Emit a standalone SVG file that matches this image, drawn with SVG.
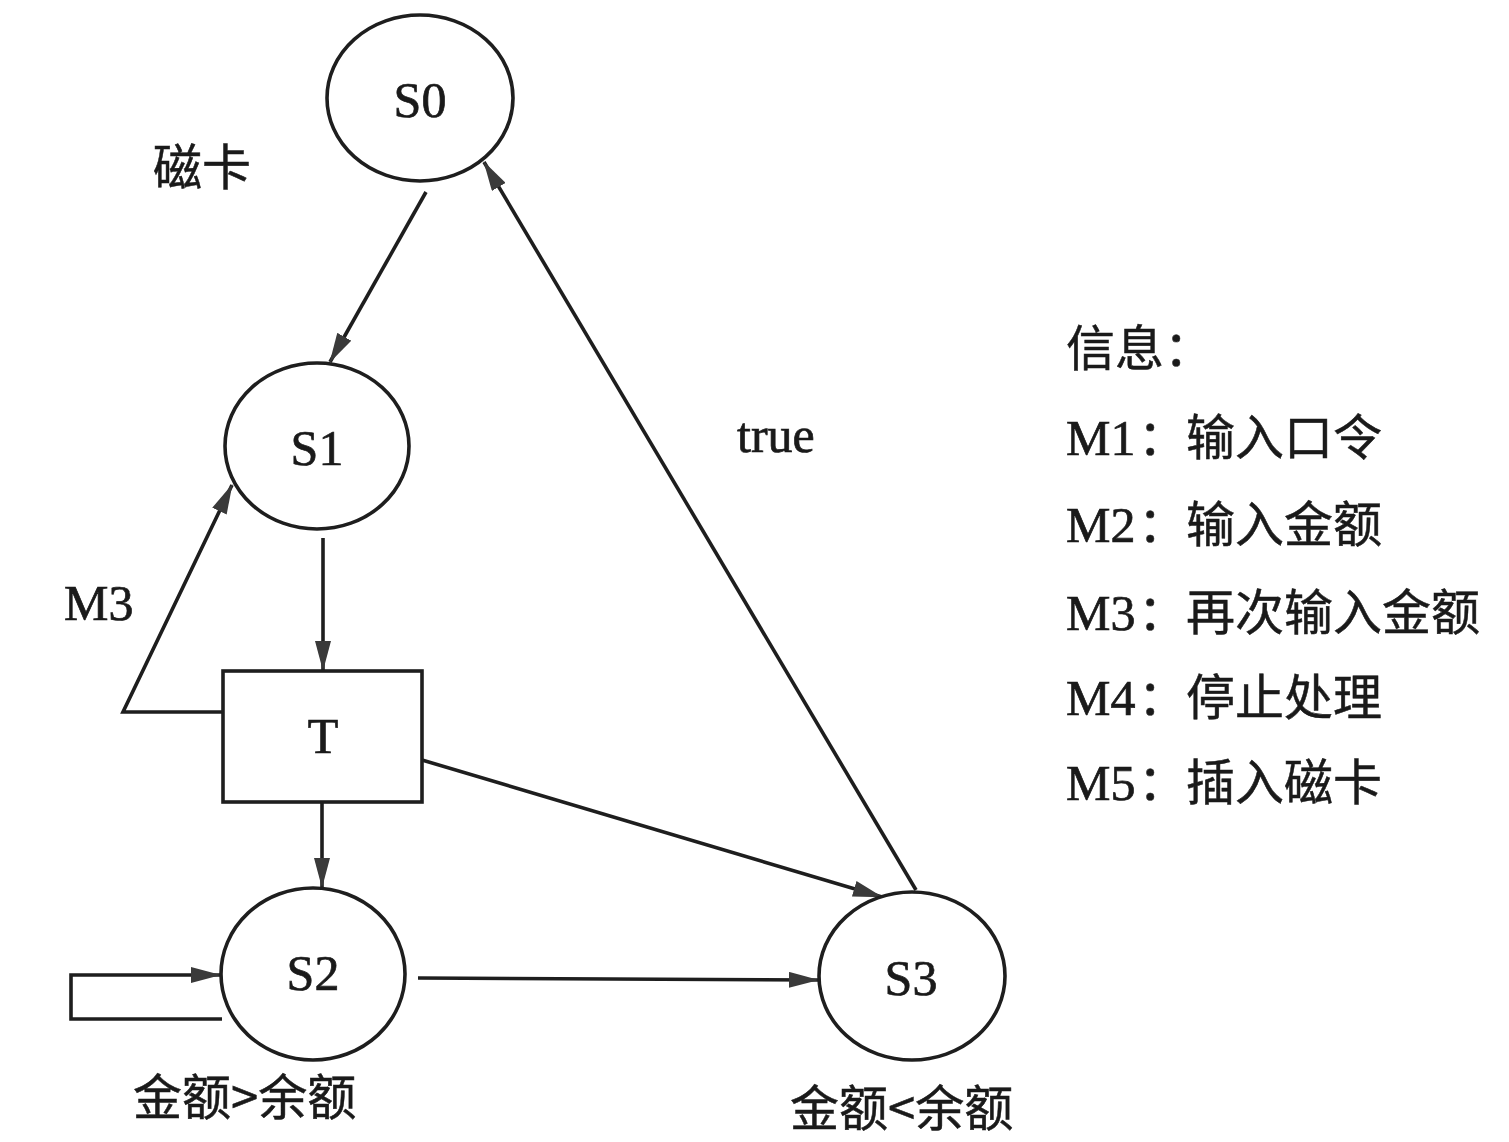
<svg xmlns="http://www.w3.org/2000/svg" width="1509" height="1142" viewBox="0 0 1509 1142">
<style>
.node{fill:#fff;stroke:#1e1e1e;stroke-width:3.6}
.edge{fill:none;stroke:#1e1e1e;stroke-width:3.6}
.lat{font-family:"Liberation Serif","Noto Sans CJK SC",serif;font-size:50px;fill:#1a1a1a;stroke:#1a1a1a;stroke-width:0.7}
.cjk{font-family:"Noto Sans CJK SC","Liberation Sans",sans-serif;font-size:49px;fill:#1a1a1a;stroke:#1a1a1a;stroke-width:0.5}
.mid{text-anchor:middle}
</style>
<defs>
<marker id="arr" viewBox="0 0 30 16" refX="29" refY="8" markerWidth="30" markerHeight="16" markerUnits="userSpaceOnUse" orient="auto">
<path d="M0,0 L30,8 L0,16 z" fill="#3a3a3a"/>
</marker>
</defs>
<rect width="1509" height="1142" fill="#fff"/>
<g id="connectors">
<path class="edge" d="M426,192 L330,362" marker-end="url(#arr)"/>
<path class="edge" d="M916,890 L484,162" marker-end="url(#arr)"/>
<path class="edge" d="M323,538 L323,670" marker-end="url(#arr)"/>
<path class="edge" d="M322,802 L322,887" marker-end="url(#arr)"/>
<path class="edge" d="M422,760 L882,897" marker-end="url(#arr)"/>
<path class="edge" d="M418,978 L818,980" marker-end="url(#arr)"/>
<path class="edge" d="M222,712 L123,712 L232,485" marker-end="url(#arr)"/>
<path class="edge" d="M222,1019 L71,1019 L71,975 L220,975" marker-end="url(#arr)"/>
</g>
<g id="S0"><ellipse class="node" cx="420" cy="98" rx="93" ry="83"/><text class="lat mid" x="420" y="117">S0</text></g>
<g id="S1"><ellipse class="node" cx="317" cy="446" rx="92" ry="83"/><text class="lat mid" x="317" y="465">S1</text></g>
<g id="T"><rect class="node" x="223" y="671" width="199" height="131"/><text class="lat mid" x="323" y="753">T</text></g>
<g id="S2"><ellipse class="node" cx="313" cy="974" rx="92" ry="86"/><text class="lat mid" x="313" y="990">S2</text></g>
<g id="S3"><ellipse class="node" cx="912" cy="976" rx="93" ry="84"/><text class="lat mid" x="911" y="995">S3</text></g>
<g id="labels">
<text class="cjk" x="153" y="185">磁卡</text>
<text class="lat" x="737" y="452">true</text>
<text class="lat" x="64" y="620">M3</text>
<text class="cjk" x="133" y="1115">金额&gt;余额</text>
<text class="cjk" x="790" y="1126">金额&lt;余额</text>
</g>
<g id="legend">
<text class="cjk" x="1066" y="366">信息：</text>
<text class="lat" x="1066" y="455">M1<tspan class="cjk" x="1138">：</tspan><tspan class="cjk" x="1186">输入口令</tspan></text>
<text class="lat" x="1066" y="542">M2<tspan class="cjk" x="1138">：</tspan><tspan class="cjk" x="1186">输入金额</tspan></text>
<text class="lat" x="1066" y="630">M3<tspan class="cjk" x="1138">：</tspan><tspan class="cjk" x="1186">再次输入金额</tspan></text>
<text class="lat" x="1066" y="715">M4<tspan class="cjk" x="1138">：</tspan><tspan class="cjk" x="1186">停止处理</tspan></text>
<text class="lat" x="1066" y="800">M5<tspan class="cjk" x="1138">：</tspan><tspan class="cjk" x="1186">插入磁卡</tspan></text>
</g>
</svg>
